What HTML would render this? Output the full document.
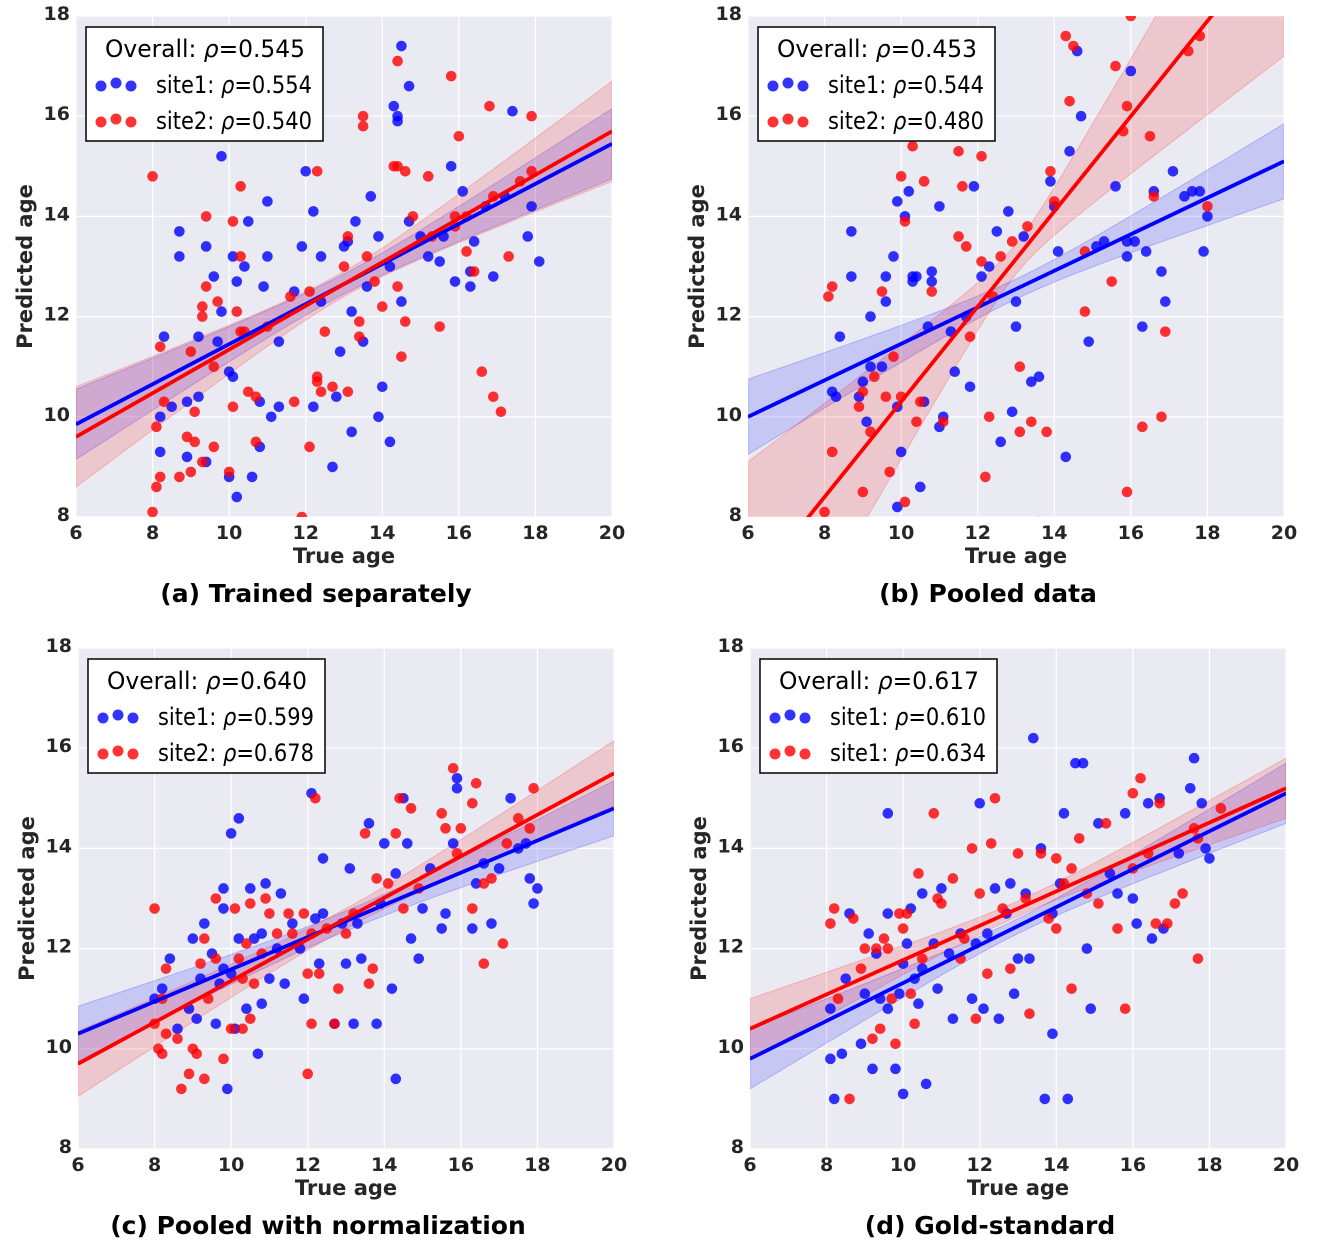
<!DOCTYPE html>
<html><head><meta charset="utf-8"><style>
html,body{margin:0;padding:0;background:#fff;}
svg{display:block;font-family:"DejaVu Sans","Liberation Sans",sans-serif;}
.tick{font-weight:bold;font-size:19px;fill:#262626;}
.axl{font-weight:bold;font-size:21px;fill:#262626;}
.cap{font-weight:bold;font-size:25px;fill:#000;}
.leg{font-size:24px;fill:#000;}
</style></head><body>
<svg id="fig" width="1328" height="1260" viewBox="0 0 1328 1260" xmlns="http://www.w3.org/2000/svg"></svg>
<script>
const xTicks=[6,8,10,12,14,16,18,20];
const yTicks=[8,10,12,14,16,18];
const captions=["(a) Trained separately","(b) Pooled data","(c) Pooled with normalization","(d) Gold-standard"];
const overallRho=["0.545","0.453","0.640","0.617"];
const legendLabels=[["site1","site2"],["site1","site2"],["site1","site2"],["site1","site1"]];
const site1Rho=["0.554","0.544","0.599","0.610"];
const site2Rho=["0.540","0.480","0.678","0.634"];
// regression lines: [y at x=6, y at x=20]
const blueLine=[[9.85,15.45],[10.0,15.1],[10.3,14.8],[9.8,15.1]];
const redLine=[[9.6,15.7],[6.5,19.8],[9.7,15.5],[10.4,15.2]];
// CI half-widths: [center, ends]
const blueBand=[[0.2,0.7],[0.2,0.75],[0.2,0.55],[0.15,0.6]];
const redBand=[[0.25,1.0],[0.3,2.6],[0.2,0.65],[0.15,0.6]];
const blueA=[8.7,13.7,8.7,13.2,8.3,11.6,8.2,10.0,8.2,9.3,8.5,10.2,8.9,10.3,8.9,9.2,9.2,10.4,9.4,9.1,9.2,11.6,9.4,13.4,9.6,12.8,9.8,15.2,9.8,12.1,9.7,11.5,10.0,10.9,10.1,10.8,10.0,8.8,10.2,8.4,10.1,13.2,10.2,12.7,10.4,13.0,10.5,13.9,10.6,8.8,10.8,9.4,10.8,10.3,10.9,12.6,11.0,13.2,11.0,14.3,11.1,10.0,11.3,10.2,11.3,11.5,11.7,12.5,11.9,13.4,12.0,14.9,12.2,14.1,12.2,10.2,12.4,13.2,12.4,12.3,12.7,9.0,12.8,10.4,12.9,11.3,13.0,13.4,13.1,13.5,13.2,12.1,13.2,9.7,13.3,13.9,13.5,11.5,13.6,12.6,13.7,14.4,13.9,13.6,13.9,10.0,14.0,10.6,14.2,13.0,14.2,9.5,14.3,16.2,14.4,15.9,14.4,16.0,14.5,17.4,14.5,12.3,14.7,16.6,14.7,13.9,15.0,13.6,15.2,13.2,15.5,13.1,15.6,13.6,15.8,15.0,15.9,12.7,16.1,14.5,16.3,12.6,16.3,12.9,16.4,13.5,16.7,14.2,16.9,12.8,17.2,14.4,17.4,16.1,17.8,13.6,17.9,14.2,18.1,13.1];
const redA=[8.0,14.8,8.2,11.4,8.1,8.6,8.0,8.1,8.1,9.8,8.2,8.8,8.3,10.3,8.7,8.8,8.9,9.6,9.0,8.9,9.1,9.5,9.0,11.3,9.1,10.1,9.3,12.0,9.3,12.2,9.3,9.1,9.4,14.0,9.4,12.6,9.6,9.4,9.6,11.0,9.7,12.3,10.0,8.9,10.1,10.2,10.1,13.9,10.2,12.1,10.3,11.7,10.3,13.2,10.3,14.6,10.4,11.7,10.5,10.5,10.7,9.5,10.7,10.4,11.0,11.8,11.6,12.4,11.7,10.3,11.9,8.0,12.1,9.4,12.1,12.5,12.3,10.8,12.3,10.7,12.4,10.5,12.3,14.9,12.5,11.7,12.7,10.6,13.0,13.0,13.1,13.6,13.1,10.5,13.4,11.9,13.4,11.6,13.6,13.2,13.8,12.7,14.0,12.2,14.3,15.0,14.4,15.0,14.6,14.9,14.4,12.6,14.5,11.2,14.6,11.9,14.8,14.0,15.2,14.8,15.3,13.6,15.5,11.8,15.8,16.8,15.9,13.8,15.9,14.0,16.0,15.6,16.2,14.0,16.2,13.3,16.4,12.9,16.6,10.9,16.8,16.2,16.9,10.4,17.1,10.1,17.3,13.2,17.6,14.7,17.9,14.9,17.9,16.0,16.9,14.4,14.4,17.1,13.5,15.8,13.5,16.0];
const blueB=[8.2,10.5,8.3,10.4,8.4,11.6,8.7,12.8,8.7,13.7,8.9,10.4,9.0,10.7,9.1,9.9,9.2,12.0,9.2,11.0,9.5,11.0,9.6,12.3,9.6,12.8,9.8,13.2,9.9,14.3,9.9,10.2,9.9,8.2,10.0,9.3,10.1,14.0,10.2,14.5,10.3,12.8,10.3,12.7,10.4,12.8,10.5,8.6,10.6,10.3,10.7,11.8,10.8,12.9,10.8,12.7,11.0,14.2,11.0,9.8,11.1,10.0,11.3,11.7,11.4,10.9,11.7,12.0,11.8,10.6,11.9,14.6,12.1,12.8,12.3,13.0,12.5,13.7,12.6,9.5,12.8,14.1,12.9,10.1,13.0,12.3,13.0,11.8,13.2,13.6,13.4,10.7,13.6,10.8,13.9,14.7,14.0,14.2,14.1,13.3,14.3,9.2,14.4,15.3,14.6,17.3,14.7,16.0,14.9,11.5,15.1,13.4,15.3,13.5,15.6,14.6,15.9,13.5,15.9,13.2,16.1,13.5,16.3,11.8,16.4,13.3,16.6,14.5,16.8,12.9,16.9,12.3,17.1,14.9,17.4,14.4,17.6,14.5,17.8,14.5,17.9,13.3,18.0,14.0,16.0,16.9];
const redB=[8.0,8.1,8.1,12.4,8.2,12.6,8.2,9.3,8.9,10.2,9.0,8.5,9.0,10.5,9.2,9.7,9.3,10.8,9.5,12.5,9.6,10.4,9.7,8.9,9.8,11.2,10.0,10.4,10.0,14.8,10.1,13.9,10.1,8.3,10.3,15.4,10.4,9.9,10.5,10.3,10.6,14.7,10.8,12.5,11.1,9.9,11.5,15.3,11.5,13.6,11.7,13.4,11.8,11.6,12.1,15.2,12.1,13.1,12.2,8.8,12.3,10.0,12.4,12.4,12.6,13.2,12.9,13.5,13.1,11.0,13.1,9.7,13.3,13.8,13.4,9.9,13.6,7.9,13.8,9.7,13.9,14.9,14.0,14.3,14.3,17.6,14.4,16.3,14.5,17.4,14.8,12.1,14.8,13.3,15.5,12.7,15.6,17.0,15.9,8.5,15.8,15.7,15.9,16.2,16.0,18.0,16.3,9.8,16.5,15.6,16.8,10.0,16.9,11.7,17.5,17.3,17.8,17.6,18.0,14.2,16.6,14.4,11.6,14.6];
const blueC=[8.0,11.0,8.2,11.2,8.4,11.8,8.6,10.4,8.9,10.8,9.0,12.2,9.1,10.6,9.2,11.4,9.3,12.5,9.5,11.9,9.6,10.5,9.7,11.3,9.8,13.2,9.8,11.6,9.8,12.8,9.9,9.2,10.0,14.3,10.0,11.5,10.1,10.4,10.2,14.6,10.2,12.2,10.4,10.8,10.5,13.2,10.6,12.2,10.7,9.9,10.8,10.9,10.8,12.3,10.9,13.3,11.0,11.4,11.2,12.0,11.3,13.1,11.4,11.3,11.6,12.5,11.8,12.0,11.9,11.0,12.1,15.1,12.2,12.6,12.3,11.7,12.4,12.7,12.4,13.8,12.7,10.5,12.9,12.5,13.0,11.7,13.1,13.6,13.2,10.5,13.3,12.5,13.4,11.8,13.6,14.5,13.8,10.5,13.9,12.9,14.0,14.1,14.2,11.2,14.3,13.5,14.3,9.4,14.5,15.0,14.6,14.1,14.7,12.2,14.9,11.8,15.0,12.8,15.2,13.6,15.5,12.4,15.6,12.7,15.8,14.1,15.9,15.2,15.9,15.4,16.3,12.4,16.4,13.3,16.6,13.7,16.8,12.5,17.0,13.6,17.3,15.0,17.5,14.0,17.8,13.4,17.9,12.9,18.0,13.2,17.7,14.1];
const redC=[8.0,12.8,8.0,10.5,8.1,10.0,8.2,9.9,8.2,11.0,8.3,11.6,8.3,10.3,8.6,10.2,8.7,9.2,8.9,9.5,9.0,10.0,9.1,9.9,9.2,11.7,9.3,12.2,9.3,9.4,9.4,11.0,9.6,13.0,9.6,11.8,9.8,9.8,10.0,10.4,10.1,12.8,10.2,11.8,10.3,10.4,10.3,11.4,10.4,12.1,10.5,12.9,10.5,10.6,10.6,11.3,10.8,11.9,10.9,13.0,11.0,12.7,11.2,12.3,11.5,12.7,11.6,12.3,11.9,12.7,12.0,11.5,12.0,9.5,12.1,10.5,12.2,15.0,12.3,11.5,12.5,12.4,12.7,10.5,12.8,11.2,13.0,12.3,13.2,12.7,13.5,14.3,13.6,11.3,13.7,11.6,13.8,13.4,14.1,13.3,14.3,14.3,14.4,15.0,14.5,12.8,14.7,14.8,14.9,13.2,15.5,14.7,15.6,14.4,15.8,15.6,15.9,13.9,16.0,14.4,16.3,12.8,16.3,14.9,16.4,15.3,16.6,11.7,16.8,13.4,17.1,12.1,17.2,14.1,17.5,14.6,17.8,14.4,17.9,15.2,16.6,13.3,12.1,12.3];
const blueD=[8.1,10.8,8.1,9.8,8.2,9.0,8.4,9.9,8.5,11.4,8.6,12.7,8.9,10.1,9.0,11.1,9.1,12.3,9.2,9.6,9.3,11.9,9.4,11.0,9.6,10.8,9.6,12.7,9.6,14.7,9.8,9.6,9.9,11.1,10.0,11.7,10.0,9.1,10.1,12.1,10.2,12.8,10.3,11.4,10.4,10.9,10.5,13.1,10.5,11.6,10.6,9.3,10.8,12.1,10.9,11.2,11.0,13.2,11.2,11.9,11.3,10.6,11.5,12.3,11.8,11.0,11.9,12.1,12.0,14.9,12.1,10.8,12.2,12.3,12.4,13.2,12.5,10.6,12.7,12.7,12.8,13.3,12.9,11.1,13.0,11.8,13.2,13.1,13.3,11.8,13.4,16.2,13.6,14.0,13.7,9.0,13.9,10.3,13.9,12.7,14.1,13.3,14.2,14.7,14.3,9.0,14.5,15.7,14.7,15.7,14.8,12.0,14.9,10.8,15.1,14.5,15.4,13.5,15.6,13.1,15.8,14.7,16.0,13.0,16.1,12.5,16.4,14.9,16.5,12.2,16.7,15.0,16.8,12.4,17.2,13.9,17.5,15.2,17.6,15.8,17.8,14.9,18.0,13.8,17.9,14.0];
const redD=[8.1,12.5,8.2,12.8,8.3,11.0,8.6,9.0,8.7,12.6,8.9,11.6,9.0,12.0,9.2,10.2,9.3,12.0,9.4,10.4,9.5,12.2,9.6,12.0,9.7,11.0,9.8,10.1,9.9,12.7,10.0,12.4,10.1,12.7,10.2,11.1,10.3,10.5,10.4,13.5,10.5,11.8,10.8,14.7,10.9,13.0,11.0,12.9,11.3,13.4,11.5,11.8,11.6,12.2,11.8,14.0,11.9,10.6,12.0,13.1,12.2,11.5,12.3,14.1,12.4,15.0,12.6,12.8,12.8,11.6,13.0,13.9,13.2,13.0,13.3,10.7,13.6,13.9,13.8,12.6,14.0,13.8,14.2,13.3,14.4,13.6,14.4,11.2,14.6,14.2,14.8,13.1,15.1,12.9,15.3,14.5,15.6,12.4,15.8,10.8,16.0,15.1,16.0,13.6,16.2,15.4,16.4,13.9,16.6,12.5,16.7,14.9,16.9,12.5,17.1,12.9,17.3,13.1,17.7,14.2,17.7,11.8,18.3,14.8,17.6,14.4,14.0,12.4];
const blueData=[blueA,blueB,blueC,blueD];
const redData=[redA,redB,redC,redD];

const NS="http://www.w3.org/2000/svg";
const svg=document.getElementById('fig');
function mk(tag,attrs,parent){const e=document.createElementNS(NS,tag);for(const k in attrs)e.setAttribute(k,attrs[k]);(parent||svg).appendChild(e);return e;}
const panels=[[76,16],[748,16],[78,648],[750,648]];
const PW=536,PH=501;
const BLUE="#0000ff",RED="#ff0000";
panels.forEach((p,i)=>{
  const ox=p[0],oy=p[1];
  const sx=v=>ox+(v-6)/14*PW;
  const sy=v=>oy+PH-(v-8)/10*PH;
  const g=mk('g',{});
  
  
  const cid='clip'+i;
  const cp=mk('clipPath',{id:cid},g);mk('rect',{x:ox,y:oy,width:PW,height:PH},cp);
  const bg=mk('rect',{x:ox,y:oy,width:PW,height:PH,fill:'#eaeaf2'},g);
  
  
  xTicks.forEach(t=>{mk('line',{x1:sx(t),x2:sx(t),y1:oy,y2:oy+PH,stroke:'#fff','stroke-width':1.2},g);
    const tx=mk('text',{x:sx(t),y:oy+PH+22,'text-anchor':'middle',class:'tick'},g);tx.textContent=t;
    
    });
  yTicks.forEach(t=>{mk('line',{x1:ox,x2:ox+PW,y1:sy(t),y2:sy(t),stroke:'#fff','stroke-width':1.2},g);
    const ty=mk('text',{x:ox-6,y:sy(t)+4,'text-anchor':'end',class:'tick'},g);ty.textContent=t;
    
    });
  const cg=mk('g',{'clip-path':'url(#'+cid+')'},g);
  function band(line,bw,col,name){
    const up=[],dn=[];
    for(let x=6;x<=20.001;x+=0.25){const y=line[0]+(line[1]-line[0])*(x-6)/14;
      const b=(bw[1]*bw[1]-bw[0]*bw[0])/49;const hw=Math.sqrt(bw[0]*bw[0]+b*(x-13)*(x-13));
      up.push(sx(x)+','+sy(y+hw));dn.unshift(sx(x)+','+sy(y-hw));}
    const pg=mk('polygon',{points:up.concat(dn).join(' '),fill:col,'fill-opacity':0.15,stroke:col,'stroke-opacity':0.2,'stroke-width':1},cg);
    
    
  }
  function dots(arr,col,name){
    for(let k=0;k<arr.length;k+=2){const c=mk('circle',{cx:sx(arr[k]),cy:sy(arr[k+1]),r:5.3,fill:col,'fill-opacity':0.8},cg);
      
      }
  }
  function line(l,col,name){const ln=mk('line',{x1:sx(6),y1:sy(l[0]),x2:sx(20),y2:sy(l[1]),stroke:col,'stroke-width':3.8},cg);
    
    }
  band(blueLine[i],blueBand[i],BLUE,'site1-ci-band');
  band(redLine[i],redBand[i],RED,'site2-ci-band');
  dots(blueData[i],BLUE,'site1-point');
  dots(redData[i],RED,'site2-point');
  line(blueLine[i],BLUE,'site1-regression-line');
  line(redLine[i],RED,'site2-regression-line');
  const xl=mk('text',{x:ox+PW/2,y:oy+PH+46,'text-anchor':'middle',class:'axl'},g);xl.textContent='True age';
  
  
  const yl=mk('text',{x:0,y:0,'text-anchor':'middle',class:'axl',transform:'translate('+(ox-44)+','+(oy+PH/2)+') rotate(-90)'},g);yl.textContent='Predicted age';
  
  
  const cap=mk('text',{x:ox+PW/2-28,y:oy+PH+85,'text-anchor':'middle',class:'cap'},g);cap.textContent=captions[i];
  
  
  const lg=mk('g',{},g);
  
  
  const lx=ox+10,ly=oy+11;
  mk('rect',{x:lx,y:ly,width:237,height:114,fill:'#fff',stroke:'#000','stroke-width':1.5},lg);
  const t0=mk('text',{x:lx+19,y:ly+30,class:'leg',textLength:200,lengthAdjust:'spacingAndGlyphs'},lg);
  t0.innerHTML='Overall: <tspan font-style="italic">ρ</tspan>=' + overallRho[i];
  
  
  [[BLUE,site1Rho[i],legendLabels[i][0]],[RED,site2Rho[i],legendLabels[i][1]]].forEach((e,j)=>{
    const cy=ly+58+j*36;
    [[15,1],[30,-2],[45,1]].forEach(d=>mk('circle',{cx:lx+d[0],cy:cy+d[1],r:5.5,fill:e[0],'fill-opacity':0.8},lg));
    const t=mk('text',{x:lx+70,y:cy+8,class:'leg',textLength:156,lengthAdjust:'spacingAndGlyphs'},lg);
    t.innerHTML=e[2]+': <tspan font-style="italic">ρ</tspan>='+e[1];
    
    
  });
});
</script>
</body></html>
